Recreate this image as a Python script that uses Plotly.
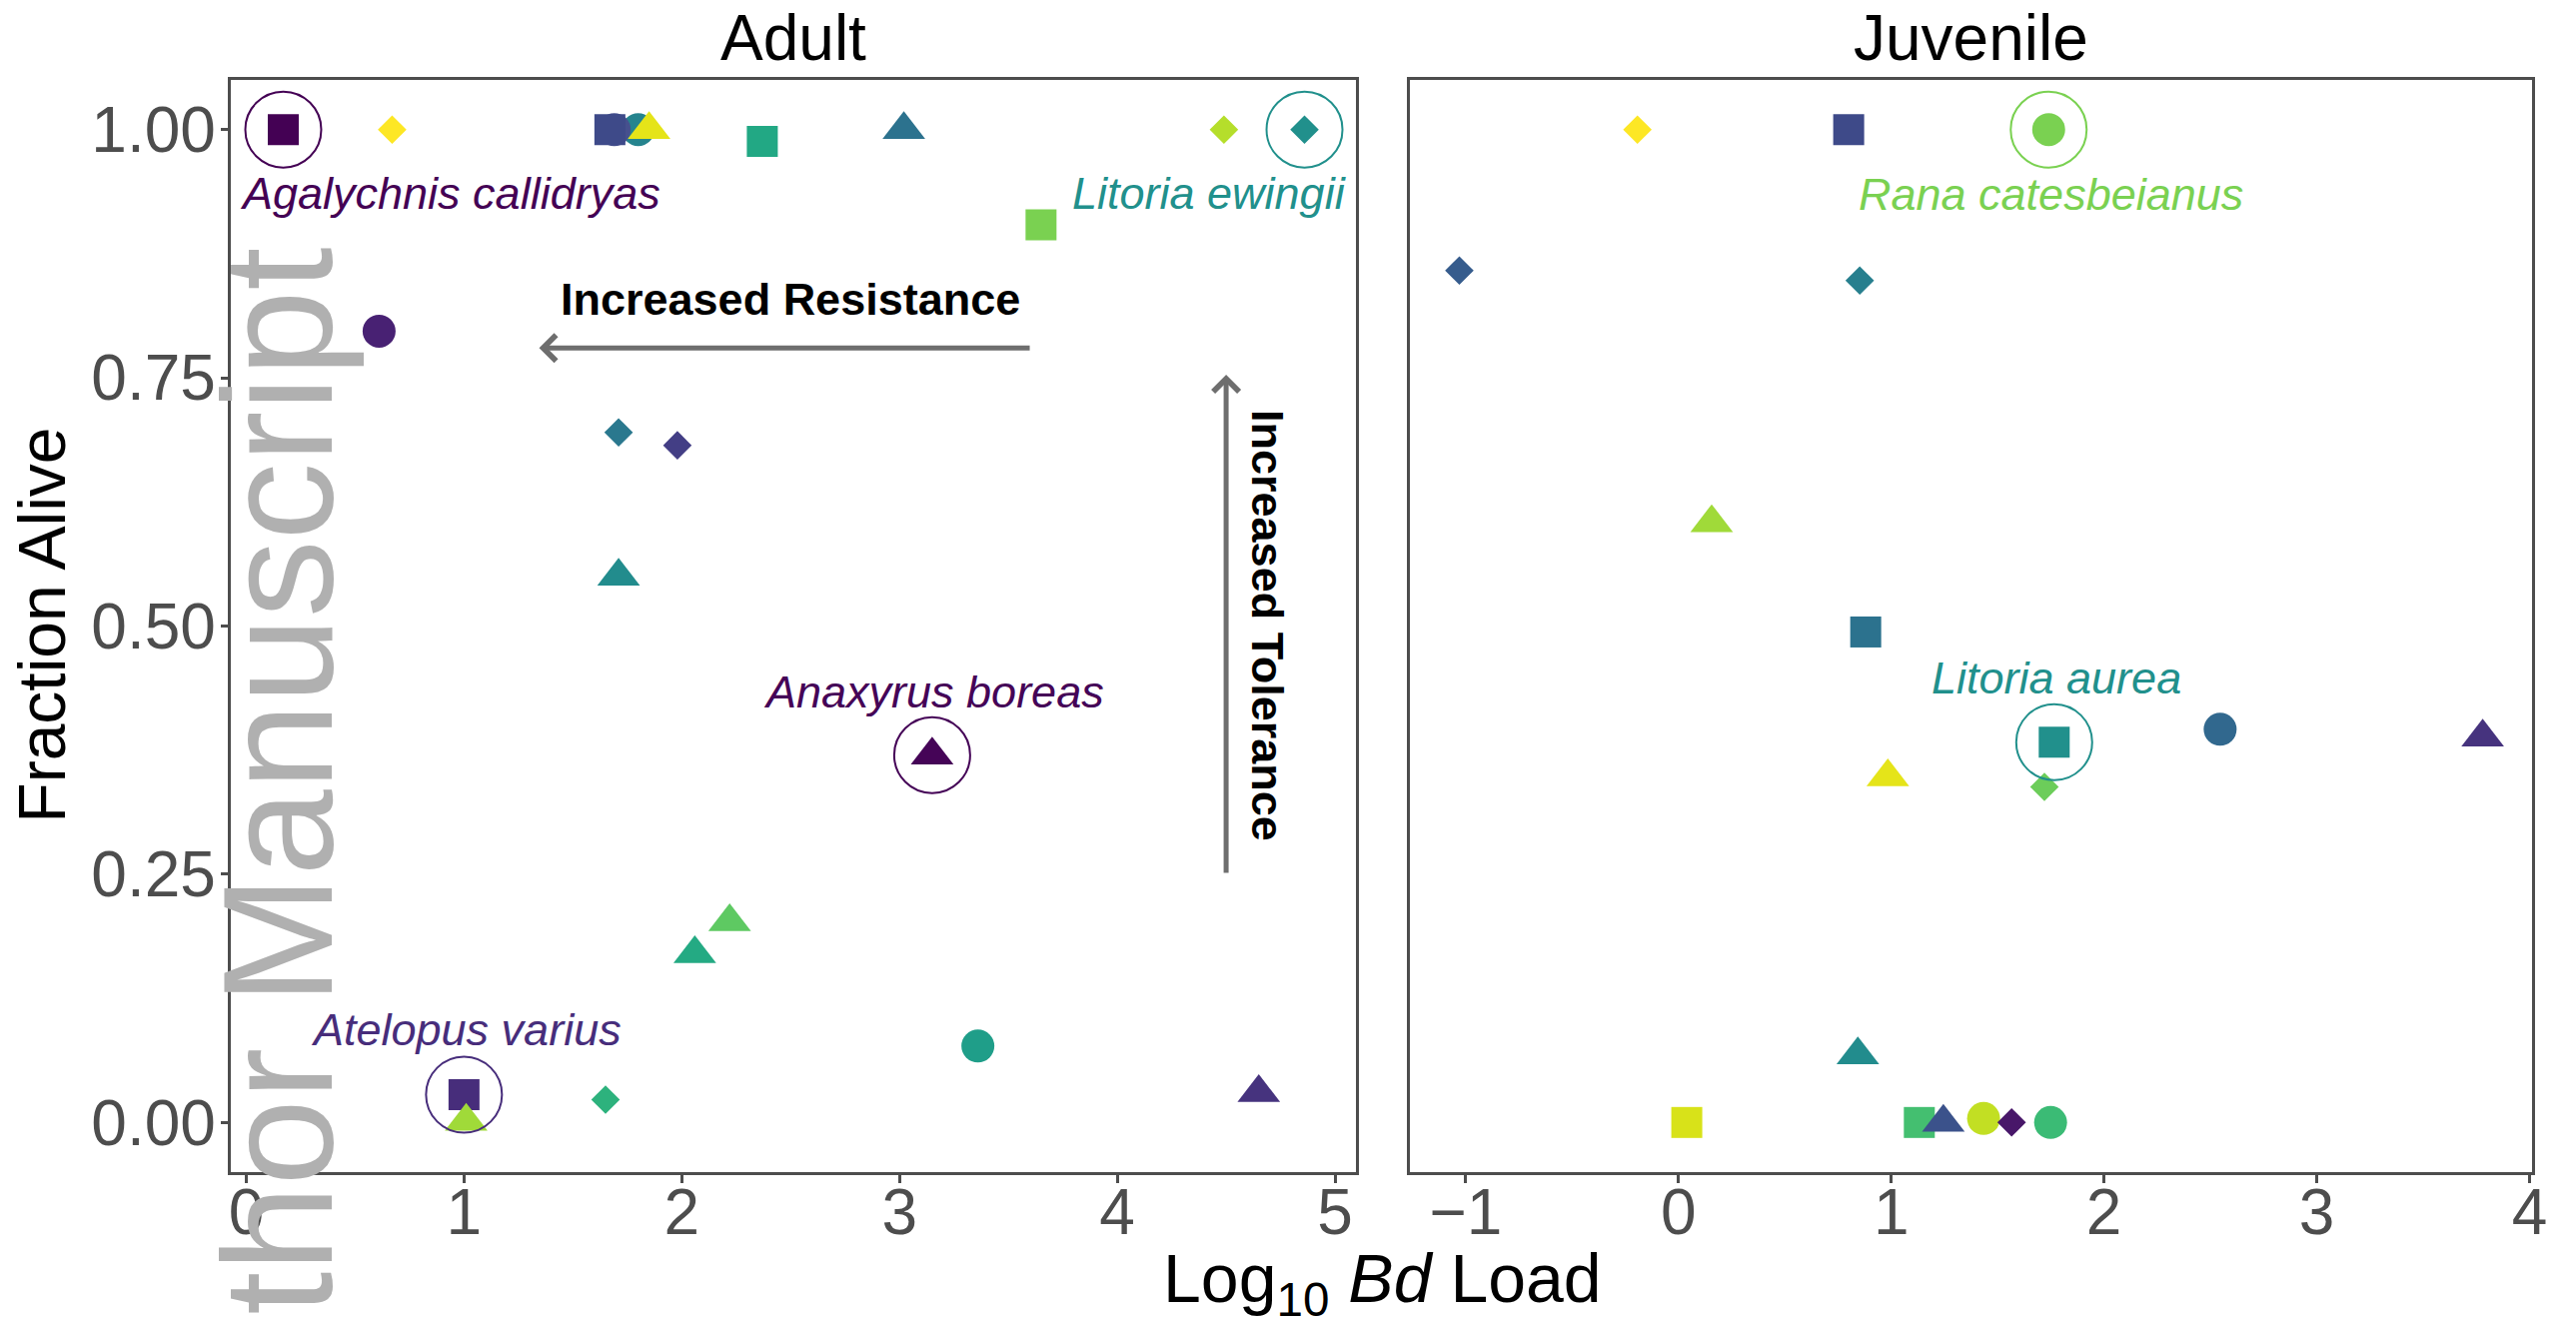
import plotly.graph_objects as go

W, H = 2578, 1324

# ---------------- data ----------------
# Adult panel (Log10 Bd load, fraction alive)
adult_x = [0.17, 0.67, 1.80, 1.69, 1.67, 1.85, 2.37, 3.02, 4.49, 4.86, 3.65, 0.61,
           1.71, 1.98, 1.71, 3.15, 2.22, 2.06, 3.36, 4.65, 1.65, 1.00, 1.01]
adult_y = [1.00, 1.00, 1.00, 1.00, 1.00, 1.00, 0.988, 1.00, 1.00, 1.00, 0.904, 0.797,
           0.695, 0.682, 0.550, 0.370, 0.202, 0.170, 0.077, 0.030, 0.023, 0.028, 0.001]
adult_shape = ["square", "diamond", "circle", "circle", "square", "triangle-up", "square",
               "triangle-up", "diamond", "diamond", "square", "circle", "diamond", "diamond",
               "triangle-up", "triangle-up", "triangle-up", "triangle-up", "circle",
               "triangle-up", "diamond", "square", "triangle-up"]
adult_color = ["#440154", "#FDE725", "#25848E", "#46508E", "#3E4A89", "#E5E419", "#22A884",
               "#2C728E", "#B5DE2B", "#21908C", "#7AD151", "#482173", "#2A788E", "#433E85",
               "#228C8D", "#450457", "#5EC962", "#24AA83", "#1F9E89", "#46337E", "#2DB27D",
               "#472D7B", "#A0DA39"]
adult_highlight = [0, 9, 15, 21]

# Juvenile panel
juv_x = [-0.193, 0.80, 1.74, -1.03, 0.852, 0.156, 0.88, 1.766, 2.546, 3.78, 0.984, 1.72,
         0.843, 0.039, 1.132, 1.245, 1.434, 1.566, 1.749]
juv_y = [1.00, 1.00, 1.00, 0.858, 0.848, 0.604, 0.494, 0.383, 0.396, 0.388, 0.348, 0.338,
         0.068, 0.00, 0.00, 0.00, 0.004, 0.00, 0.00]
juv_shape = ["diamond", "square", "circle", "diamond", "diamond", "triangle-up", "square",
             "square", "circle", "triangle-up", "triangle-up", "diamond", "triangle-up",
             "square", "square", "triangle-up", "circle", "diamond", "circle"]
juv_color = ["#FDE725", "#3E4A89", "#7AD151", "#365C8D", "#277F8E", "#A0DA39", "#2C728E",
             "#21908C", "#31688E", "#46337E", "#E5E419", "#6CCD5A", "#228C8D", "#D8E219",
             "#44BF70", "#3B528B", "#C2DF23", "#481769", "#3BBB75"]
juv_highlight = [2, 7]

# species labels
label_panel = ["adult", "adult", "adult", "adult", "juv", "juv"]
label_text = ["Agalychnis callidryas", "Litoria ewingii", "Anaxyrus boreas",
              "Atelopus varius", "Rana catesbeianus", "Litoria aurea"]
label_x = [0.935, 4.424, 3.158, 1.011, 1.751, 1.777]
label_y = [0.936, 0.936, 0.434, 0.0935, 0.935, 0.448]
label_color = ["#440154", "#21908C", "#450457", "#472D7B", "#7AD151", "#21908C"]

y_ticks = [0, 0.25, 0.5, 0.75, 1.0]
y_ticktext = ["0.00", "0.25", "0.50", "0.75", "1.00"]
adult_xticks = [0, 1, 2, 3, 4, 5]
juv_xticks = [-1, 0, 1, 2, 3, 4]

# ---------------- style ----------------
FONT = "Liberation Sans, Arial, sans-serif"
SIZE = {"square": 31, "circle": 33, "diamond": 22, "triangle-up": 37}
AX = "#4D4D4D"
XK, XB = 0.9943, 1.3   # horizontal correction for the capture


def px_x(p):
    return ((p - XB) / XK) / W


def px_y(p):
    return 1 - p / H


fig = go.Figure()


def add_panel(xs, ys, shapes, colors, hl, xa, ya):
    fig.add_trace(go.Scatter(
        x=xs, y=ys, mode="markers", xaxis=xa, yaxis=ya, showlegend=False,
        marker=dict(symbol=shapes, color=colors, size=[SIZE[s] for s in shapes],
                    opacity=1, line=dict(width=0)),
    ))
    fig.add_trace(go.Scatter(
        x=[xs[i] for i in hl], y=[ys[i] for i in hl], mode="markers",
        xaxis=xa, yaxis=ya, showlegend=False,
        marker=dict(symbol="circle-open", size=76, opacity=1,
                    color=[colors[i] for i in hl],
                    line=dict(width=2, color=[colors[i] for i in hl])),
    ))


add_panel(adult_x, adult_y, adult_shape, adult_color, adult_highlight, "x", "y")
add_panel(juv_x, juv_y, juv_shape, juv_color, juv_highlight, "x2", "y2")

axis_common = dict(showline=True, mirror=True, linecolor=AX, linewidth=2.5,
                   ticklen=8, tickwidth=2.5, tickcolor=AX,
                   tickfont=dict(family=FONT, size=64, color=AX),
                   showgrid=False, zeroline=False)

ydom = [px_y(1173), px_y(80)]
fig.update_layout(
    width=W, height=H,
    margin=dict(l=0, r=0, t=0, b=0),
    paper_bgcolor="white", plot_bgcolor="white",
    font=dict(family=FONT),
    xaxis=dict(domain=[px_x(230), px_x(1357)], range=[-0.069, 5.096],
               tickvals=adult_xticks, anchor="y", ticks="outside",
               ticklabelstandoff=-26, **axis_common),
    yaxis=dict(domain=ydom, range=[-0.05, 1.05], tickvals=y_ticks,
               ticktext=y_ticktext, anchor="x", ticks="outside",
               ticklabelstandoff=-8, **axis_common),
    xaxis2=dict(domain=[px_x(1411), px_x(2536)], range=[-1.263, 4.014],
                tickvals=juv_xticks, anchor="y2", ticks="outside",
                ticklabelstandoff=-26, **axis_common),
    yaxis2=dict(domain=ydom, range=[-0.05, 1.05], tickvals=y_ticks,
                showticklabels=False, anchor="x2", ticks="", **axis_common),
)

ann = []
# panel titles
ann.append(dict(text="Adult", x=px_x(793.5), y=px_y(38), xref="paper", yref="paper",
                showarrow=False, font=dict(family=FONT, size=64, color="black"),
                xanchor="center", yanchor="middle"))
ann.append(dict(text="Juvenile", x=px_x(1973.5), y=px_y(38), xref="paper", yref="paper",
                showarrow=False, font=dict(family=FONT, size=64, color="black"),
                xanchor="center", yanchor="middle"))
# axis titles
ann.append(dict(text="Fraction Alive", x=px_x(40), y=px_y(626), xref="paper", yref="paper",
                showarrow=False, textangle=-90, font=dict(family=FONT, size=66, color="black"),
                xanchor="center", yanchor="middle"))
ann.append(dict(text="Log<sub>10</sub> <i>Bd</i> Load", x=px_x(1384), y=px_y(1284),
                xref="paper", yref="paper", showarrow=False,
                font=dict(family=FONT, size=68, color="black"),
                xanchor="center", yanchor="middle"))
# species labels
for pnl, t, lx, ly, c in zip(label_panel, label_text, label_x, label_y, label_color):
    xr, yr = ("x", "y") if pnl == "adult" else ("x2", "y2")
    ann.append(dict(text="<i>%s</i>" % t, x=lx, y=ly, xref=xr, yref=yr, showarrow=False,
                    font=dict(family=FONT, size=45, color=c),
                    xanchor="center", yanchor="middle"))
# arrows
ann.append(dict(x=1.345, y=0.78, ax=3.605, ay=0.78, xref="x", yref="y", axref="x", ayref="y",
                text="", showarrow=True, arrowhead=4, arrowsize=1, arrowwidth=5,
                arrowcolor="#6E6E6E"))
ann.append(dict(x=4.5, y=0.753, ax=4.5, ay=0.25, xref="x", yref="y", axref="x", ayref="y",
                text="", showarrow=True, arrowhead=4, arrowsize=1, arrowwidth=5,
                arrowcolor="#6E6E6E"))
ann.append(dict(text="<b>Increased Resistance</b>", x=2.5, y=0.829, xref="x", yref="y",
                showarrow=False, font=dict(family=FONT, size=45, color="black"),
                xanchor="center", yanchor="middle"))
ann.append(dict(text="<b>Increased Tolerance</b>", x=4.69, y=0.5, xref="x", yref="y",
                showarrow=False, textangle=90, font=dict(family=FONT, size=45, color="black"),
                xanchor="center", yanchor="middle"))
# watermark
ann.append(dict(text="Author Manuscript", x=px_x(277), y=px_y(876), xref="paper", yref="paper",
                showarrow=False, textangle=-90,
                font=dict(family=FONT, size=155, color="#B0B0B0"),
                xanchor="center", yanchor="middle"))

fig.update_layout(annotations=ann)
fig.write_html("out.html", config={"displayModeBar": False},
               post_script="document.body.style.margin='0';"
                           "document.documentElement.style.overflow='hidden';")
